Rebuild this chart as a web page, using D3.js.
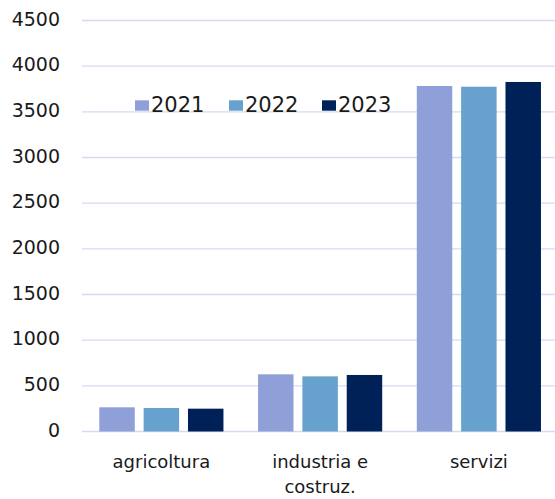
<!DOCTYPE html>
<html>
<head>
<meta charset="utf-8">
<script src="https://cdn.jsdelivr.net/npm/d3@7"></script>
<style>
  html, body { margin: 0; padding: 0; background: #ffffff; }
  svg { display: block; }
  text { font-family: "DejaVu Sans", sans-serif; fill: #1a1a1a; }
</style>
</head>
<body>
<svg id="chart" width="555" height="499"></svg>
<script>
const categories = ["agricoltura", "industria e costruz.", "servizi"];
const categoryLines = [["agricoltura"], ["industria e", "costruz."], ["servizi"]];
const seriesNames = ["2021", "2022", "2023"];
const values2021 = [265, 626, 3783];
const values2022 = [257, 604, 3775];
const values2023 = [250, 619, 3827];
const yTicks = [0, 500, 1000, 1500, 2000, 2500, 3000, 3500, 4000, 4500];
const colors = ["#8FA0D8", "#67A1CD", "#002157"];

const seriesValues = [values2021, values2022, values2023];
const data = categories.map((c, i) => ({
  cat: c,
  vals: seriesNames.map((s, j) => ({ series: s, value: seriesValues[j][i], idx: j }))
}));

const svg = d3.select("#chart");
const x0 = d3.scaleBand().domain(categories).range([82, 558.25]).padding(0);
const x1 = d3.scaleBand().domain(seriesNames).range([0, x0.bandwidth()])
  .paddingInner(0.2).paddingOuter(0.39);
const y = d3.scaleLinear().domain([0, 4500]).range([431.5, 20.5]);
const color = d3.scaleOrdinal().domain(seriesNames).range(colors);

// gridlines
svg.append("g").selectAll("line").data(yTicks).join("line")
  .attr("x1", 82).attr("x2", 555)
  .attr("y1", d => y(d)).attr("y2", d => y(d))
  .attr("stroke", "#D3DBF2").attr("stroke-width", 1.4);

// y tick labels
svg.append("g").selectAll("text").data(yTicks).join("text")
  .attr("x", 60).attr("y", d => y(d) + 5)
  .attr("text-anchor", "end")
  .style("font-size", "19px")
  .text(d => d);

// bars
const groups = svg.append("g").selectAll("g").data(data).join("g")
  .attr("transform", d => `translate(${x0(d.cat)},0)`);
groups.selectAll("rect").data(d => d.vals).join("rect")
  .attr("x", d => x1(d.series))
  .attr("width", x1.bandwidth())
  .attr("y", d => y(d.value))
  .attr("height", d => y(0) - y(d.value))
  .attr("fill", d => color(d.series));

// category labels
const labels = svg.append("g").selectAll("text").data(categories).join("text")
  .attr("x", d => x0(d) + x0.bandwidth() / 2)
  .attr("y", 468.3)
  .attr("text-anchor", "middle")
  .style("font-size", "18px");
labels.each(function(d, i) {
  const t = d3.select(this);
  categoryLines[i].forEach((ln, k) => {
    t.append("tspan").attr("x", x0(d) + x0.bandwidth() / 2)
      .attr("dy", k === 0 ? 0 : 25).text(ln);
  });
});

// legend
const legendX = [135, 229, 322];
const legend = svg.append("g").selectAll("g").data(seriesNames).join("g")
  .attr("transform", (d, i) => `translate(${legendX[i]},0)`);
legend.append("rect").attr("x", 0).attr("y", 100.3).attr("width", 14).attr("height", 10.4)
  .attr("fill", d => color(d));
legend.append("text").attr("x", 16).attr("y", 112)
  .style("font-size", "21px").text(d => d);
</script>
</body>
</html>
